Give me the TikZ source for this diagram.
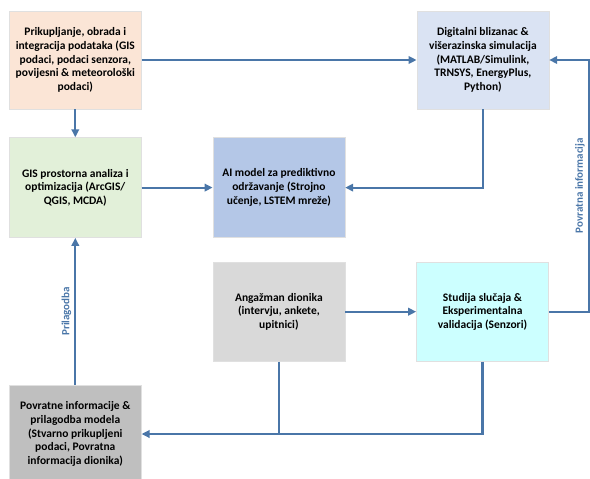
\documentclass[tikz,border=0pt]{standalone}
\usepackage{fontspec}
\setmainfont{Carlito}
\usepackage{xcolor}
\usetikzlibrary{positioning, arrows.meta}
\definecolor{flowline}{HTML}{4A76A8}
\definecolor{peachbg}{HTML}{FBE5D6}
\definecolor{lavenderbg}{HTML}{DAE3F3}
\definecolor{greenbg}{HTML}{E2F0D9}
\definecolor{aibg}{HTML}{B4C7E7}
\definecolor{lightgreybg}{HTML}{D9D9D9}
\definecolor{cyanbg}{HTML}{CCFFFF}
\definecolor{greybg}{HTML}{BFBFBF}
\tikzset{
  box/.style={
    draw=black!12, line width=0.6pt,
    minimum width=132pt, minimum height=99pt,
    align=center, inner sep=2pt,
    font=\fontsize{11.5}{13.7}\selectfont\bfseries
  },
  flow/.style={
    -{Triangle[length=8pt,width=7.5pt]},
    line width=2.2pt, color=flowline
  },
  joint/.style={line width=2.2pt, color=flowline},
  loop label/.style={
    rotate=90, anchor=south, inner sep=3pt,
    font=\fontsize{11}{13}\selectfont\bfseries, text=flowline
  }
}

\begin{document}
\begin{tikzpicture}[x=1pt, y=-1pt]
  \useasboundingbox (0,0) rectangle (590,479);

  \node[box, fill=peachbg, minimum height=98pt] (collect) at (75.3,60)
    {Prikupljanje, obrada i\\integracija podataka (GIS\\podaci, podaci senzora,\\povijesni \& meteorološki\\podaci)};
  \node[box, fill=lavenderbg, minimum height=98pt, right=275pt of collect] (twin)
    {Digitalni blizanac \&\\višerazinska simulacija\\(MATLAB/Simulink,\\TRNSYS, EnergyPlus,\\Python)};
  \node[box, fill=greenbg, minimum height=100pt, below=28pt of collect] (gis)
    {GIS prostorna analiza i\\optimizacija (ArcGIS/\\QGIS, MCDA)};
  \node[box, fill=aibg, minimum height=100pt, right=71pt of gis] (ai)
    {AI model za prediktivno\\održavanje (Strojno\\učenje, LSTEM mreže)};
  \node[box, fill=lightgreybg, below=24pt of ai] (stake)
    {Angažman dionika\\(intervju, ankete,\\upitnici)};
  \node[box, fill=cyanbg, right=71pt of stake] (study)
    {Studija slučaja \&\\Eksperimentalna\\validacija (Senzori)};
  \node[box, fill=greybg, minimum height=98pt] (adjust) at (75.3,434)
    {Povratne informacije \&\\prilagodba modela\\(Stvarno prikupljeni\\podaci, Povratna\\informacija dionika)};

  \coordinate[right=40pt of study.east] (fbcorner);

  \draw[flow] (collect) -- (twin);
  \draw[flow] (collect) -- (gis);
  \draw[flow] (gis) -- (ai);
  \draw[flow] (twin.south) |- (ai.east);
  \draw[flow] (stake) -- (study);
  \draw[flow] (study.east) -- (fbcorner)
    -- node[loop label] {Povratna informacija} (fbcorner |- twin.east) -- (twin.east);
  \draw[flow] (study.south) |- (adjust.east);
  \draw[joint] (stake.south) -- (stake.south |- adjust.east);
  \draw[flow] (adjust) -- node[loop label] {Prilagodba} (gis);
\end{tikzpicture}
\end{document}
